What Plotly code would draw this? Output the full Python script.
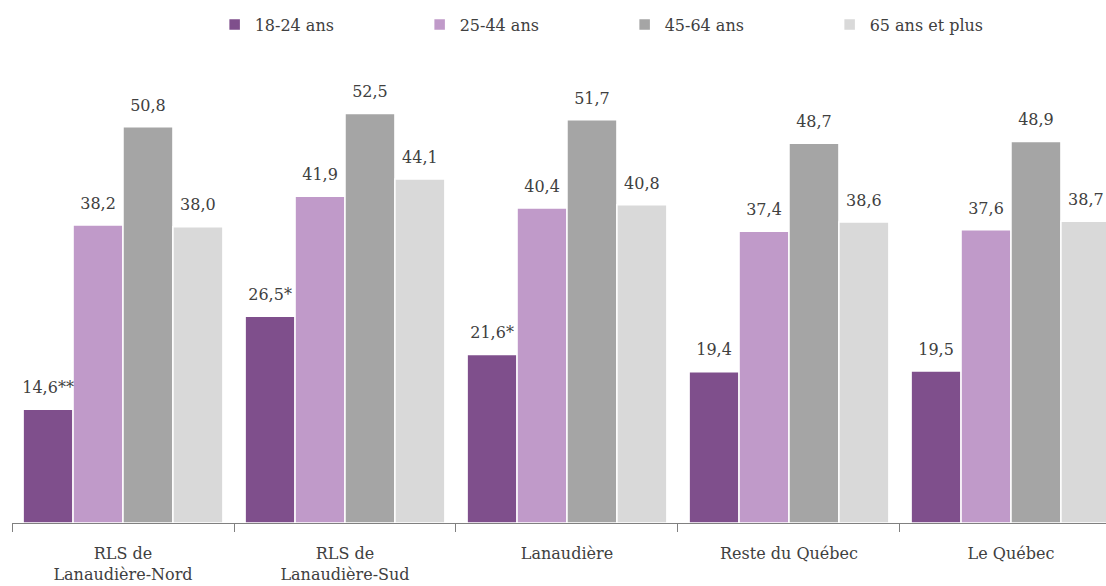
import plotly.graph_objects as go

categories = ["RLS de<br>Lanaudière-Nord", "RLS de<br>Lanaudière-Sud", "Lanaudière",
              "Reste du Québec", "Le Québec"]
series_names = ["18-24 ans", "25-44 ans", "45-64 ans", "65 ans et plus"]
v_18_24 = [14.6, 26.5, 21.6, 19.4, 19.5]
v_25_44 = [38.2, 41.9, 40.4, 37.4, 37.6]
v_45_64 = [50.8, 52.5, 51.7, 48.7, 48.9]
v_65p = [38.0, 44.1, 40.8, 38.6, 38.7]
flags_18_24 = ["**", "*", "*", "", ""]
flags_25_44 = ["", "", "", "", ""]
flags_45_64 = ["", "", "", "", ""]
flags_65p = ["", "", "", "", ""]
colors = ["#7F4F8C", "#C09AC9", "#A5A5A5", "#D9D9D9"]

values = [v_18_24, v_25_44, v_45_64, v_65p]
flags = [flags_18_24, flags_25_44, flags_45_64, flags_65p]

FONT = "DejaVu Serif"
TXT = "#404040"

fig = go.Figure()
for i, name in enumerate(series_names):
    fig.add_trace(go.Bar(
        x=categories, y=values[i], name=name, offsetgroup=str(i),
        marker=dict(color=colors[i], line=dict(color="white", width=1.5)),
        hoverinfo="skip",
    ))
for i, name in enumerate(series_names):
    labels = [f"{v:.1f}".replace(".", ",") + f for v, f in zip(values[i], flags[i])]
    fig.add_trace(go.Scatter(
        x=categories, y=values[i], mode="markers+text", text=labels, offsetgroup=str(i),
        marker=dict(size=18, opacity=0),
        textposition="top center", showlegend=False, hoverinfo="skip",
        textfont=dict(family=FONT, size=16, color=TXT), cliponaxis=False,
    ))

fig.update_layout(
    width=1106, height=586,
    margin=dict(l=12, r=0, t=80, b=63),
    paper_bgcolor="white", plot_bgcolor="white",
    barmode="group", bargap=0.1, bargroupgap=0,
    scattermode="group", scattergap=0.1,
    font=dict(family=FONT, size=16, color=TXT),
    showlegend=True,
    legend=dict(orientation="h", x=0.56, xanchor="center", y=1.125, yanchor="middle",
                font=dict(family=FONT, size=16, color=TXT), entrywidth=160,
                itemclick=False, itemdoubleclick=False),
    xaxis=dict(range=[-0.5, 4.428], showline=True, linecolor="#808080", linewidth=1,
               ticks="outside", tickson="boundaries", ticklen=8, tickcolor="#808080",
               ticklabelstandoff=16,
               tickfont=dict(family=FONT, size=16, color=TXT), showgrid=False, fixedrange=True),
    yaxis=dict(range=[0, 56.8], visible=False, showgrid=False, zeroline=False, fixedrange=True),
)

fig.write_html("out.html")
